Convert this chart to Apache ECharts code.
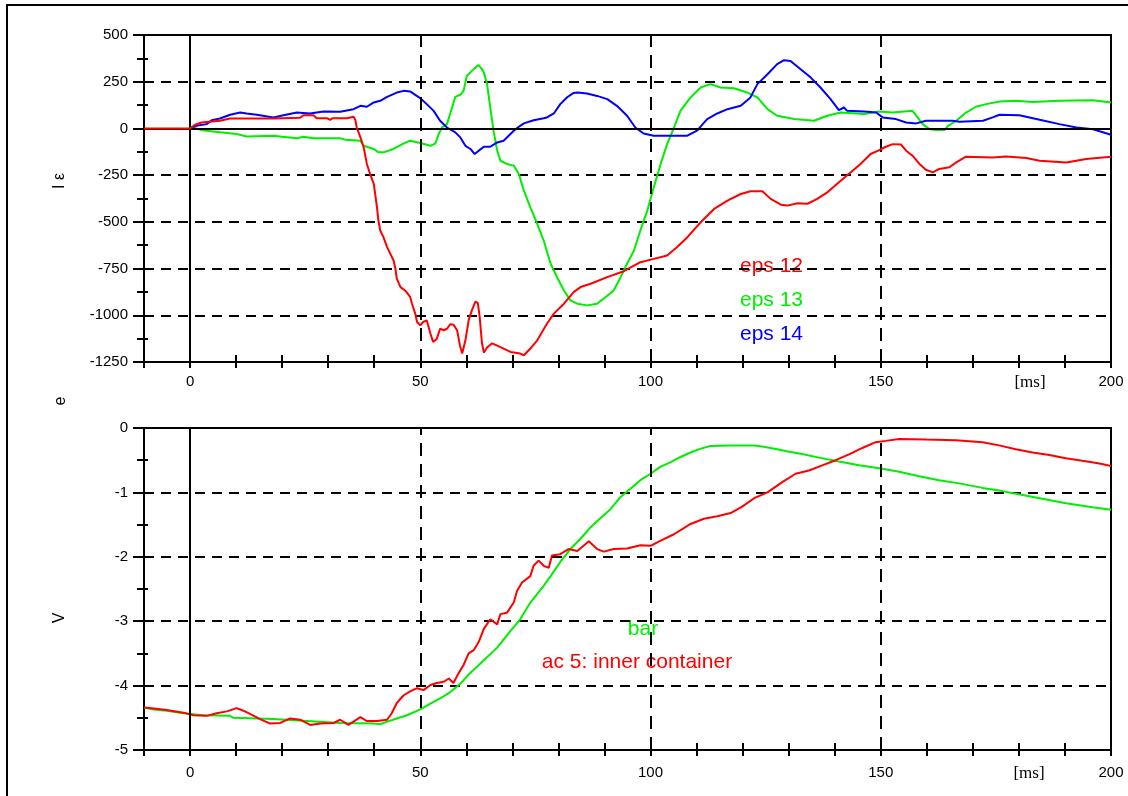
<!DOCTYPE html>
<html>
<head>
<meta charset="utf-8">
<script src="https://cdn.jsdelivr.net/npm/echarts@6/dist/echarts.min.js"></script>
<style>
html,body{margin:0;padding:0;background:#fff;}
#chart{width:1128px;height:796px;}
</style>
</head>
<body>
<div id="chart"></div>
<script>
// ---- data (time in ms, values) ----
const xTickLabels = [0, 50, 100, 150, 200];
const xUnit = '[ms]';
const topYLabel = 'I ε';
const midLabel = 'e';
const bottomYLabel = 'V';
const topNames = ['eps 12', 'eps 13', 'eps 14'];
const bottomNames = ['bar', 'ac 5: inner container'];

const eps12 = [[-10,0],[0,0],[1.1,20],[2.5,32],[6.5,41],[8.7,53],[18.1,53],[23.9,57],[24.6,71],[26.8,71],[27.5,55],[29.7,55],[30.4,46],[31,55],[34.1,55],[35.5,62],[35.9,45],[36.2,5],[37.0,-48],[37.7,-101],[38.4,-190],[39.1,-244],[39.9,-297],[40.6,-422],[40.9,-493],[41.3,-546],[42.0,-582],[42.8,-635],[43.5,-671],[44.2,-707],[44.6,-751],[44.9,-804],[45.7,-849],[46.7,-867],[47.8,-902],[48.2,-938],[48.9,-991],[49.3,-1036],[50,-1054],[50.6,-1036],[51.4,-1027],[52.2,-1098],[52.8,-1143],[53.6,-1125],[54.3,-1072],[55.1,-1080],[55.8,-1072],[56.5,-1048],[57.2,-1050],[58.0,-1080],[58.6,-1160],[59.1,-1205],[59.8,-1134],[60.5,-1027],[61.2,-974],[62.0,-926],[62.5,-935],[62.9,-1009],[63.4,-1150],[63.8,-1200],[64.5,-1172],[65.6,-1150],[66.7,-1162],[68.1,-1178],[69.6,-1196],[71.7,-1205],[72.5,-1214],[73.9,-1178],[75.4,-1134],[77.5,-1045],[79.0,-991],[81.2,-938],[83.3,-876],[84.8,-849],[87.0,-831],[90.6,-796],[94.2,-764],[97.8,-716],[100.7,-698],[103.6,-680],[105.8,-635],[108.0,-582],[110.9,-502],[113.8,-431],[116.7,-386],[119.6,-351],[121.7,-336],[124.3,-336],[126.1,-377],[128.3,-408],[129.7,-413],[131.9,-400],[134.1,-403],[136.2,-377],[138.4,-342],[141.3,-280],[143.5,-235],[145.6,-190],[147.8,-137],[149.7,-116],[151.1,-98],[152.6,-84],[154.4,-86],[155.5,-119],[156.9,-146],[158.4,-190],[159.8,-221],[161.3,-235],[162.7,-217],[164.9,-208],[166.4,-182],[168.5,-151],[174.3,-155],[177.2,-150],[181.6,-158],[184.5,-173],[190.3,-182],[194.6,-164],[200,-151]];

const eps13 = [[0,0],[1.4,0],[2.5,-9],[3.6,-12],[6.5,-21],[10.1,-30],[12.3,-43],[18.1,-39],[20,-45],[23.2,-52],[24.6,-45],[26.8,-52],[32.6,-53],[33.7,-60],[37.0,-66],[37.7,-93],[39.9,-110],[40.9,-128],[42.0,-128],[44.2,-110],[46.4,-80],[47.8,-66],[50,-78],[52.2,-93],[53.3,-80],[54.0,-30],[54.7,5],[55.8,23],[56.9,112],[57.6,169],[58.7,180],[59.4,201],[60.1,281],[61.2,308],[62.0,326],[62.6,340],[63.3,320],[63.8,300],[64.5,237],[65.2,112],[65.9,-12],[66.7,-119],[67.4,-173],[68.8,-190],[70.3,-199],[71.4,-244],[72.5,-333],[73.9,-422],[75.4,-511],[76.8,-600],[78.3,-724],[79.7,-796],[81.2,-867],[82.6,-920],[84.1,-938],[86.2,-947],[88.4,-938],[89.8,-911],[92.0,-867],[93.5,-796],[94.9,-724],[96.4,-653],[97.8,-546],[99.3,-440],[100.7,-315],[102.2,-190],[103.6,-84],[105.1,5],[106.5,94],[108.7,166],[110.9,219],[113.0,237],[115.2,219],[118.1,215],[121.0,192],[123.2,166],[125.4,103],[127.5,68],[131.2,50],[135.5,41],[138.4,68],[141.3,85],[146.4,77],[149.7,91],[152.6,85],[156.9,94],[158.0,59],[159.1,23],[160.6,-4],[162.0,-9],[163.8,-9],[164.6,14],[166.4,41],[168.5,85],[170.7,116],[172.9,130],[175.8,144],[179.4,148],[183.0,142],[188.8,148],[196.1,151],[200,139]];

const eps14 = [[0,0],[1.4,14],[3.6,23],[4.7,44],[6.5,53],[8.7,73],[10.9,85],[12.3,80],[14.5,73],[18.1,59],[20.3,71],[23.2,85],[26,80],[29.0,91],[32.6,89],[35.5,103],[37.0,121],[38.4,116],[39.9,139],[41.3,148],[42.8,169],[44.9,192],[46.4,201],[47.8,198],[48.9,180],[50,162],[51.4,130],[52.9,94],[54.3,41],[55.8,5],[57.6,-21],[58.7,-48],[59.8,-93],[60.9,-110],[61.8,-137],[62.7,-119],[63.8,-98],[65.2,-98],[66.7,-75],[68.1,-66],[69.2,-39],[70.3,-12],[71.7,14],[72.5,27],[74.6,44],[76.8,55],[77.5,59],[79.0,80],[80.4,130],[81.9,167],[83.3,190],[84.1,192],[86.2,187],[88.4,174],[90.6,157],[92.7,121],[94.9,68],[96.7,5],[98.5,-27],[100.7,-39],[104.3,-39],[108.0,-39],[110.1,-12],[112.3,50],[114.5,80],[116.7,103],[119.6,121],[121.7,166],[123.2,237],[125.4,290],[127.5,344],[129.0,365],[130.4,361],[132.6,317],[134.8,272],[136.9,219],[139.1,157],[140.9,98],[142.0,112],[142.7,94],[146.4,91],[149.0,85],[150.4,59],[153.3,50],[155.5,32],[157.7,27],[159.8,41],[165.6,41],[167.1,36],[172.2,41],[174.3,59],[175.8,73],[180.1,71],[182.3,59],[184.5,46],[188.8,23],[192.5,5],[196.1,-4],[200,-34]];

const barV = [[-10,-4.34],[-8.0,-4.37],[-5.1,-4.39],[-2.2,-4.42],[0,-4.44],[2.9,-4.46],[8.7,-4.47],[9.4,-4.50],[18.1,-4.52],[25.4,-4.55],[32.6,-4.58],[39.9,-4.59],[41.3,-4.60],[42.8,-4.56],[44.9,-4.51],[47.1,-4.46],[50,-4.37],[52.2,-4.28],[54.3,-4.20],[56.5,-4.10],[58.7,-3.97],[60.9,-3.80],[63.0,-3.66],[66.7,-3.41],[69.6,-3.15],[71.7,-2.97],[73.9,-2.71],[76.8,-2.45],[78.3,-2.30],[80.4,-2.08],[82.6,-1.88],[84.8,-1.72],[87.0,-1.54],[89.1,-1.40],[91.3,-1.26],[93.5,-1.07],[95.7,-0.94],[97.8,-0.81],[100.0,-0.71],[102.2,-0.60],[104.4,-0.53],[106.5,-0.45],[108.7,-0.38],[110.9,-0.32],[113.0,-0.28],[117.4,-0.27],[122.5,-0.27],[124.6,-0.29],[127.5,-0.33],[130.1,-0.37],[132.6,-0.40],[136.6,-0.46],[140.9,-0.52],[145.3,-0.58],[150.0,-0.63],[154.0,-0.68],[158.3,-0.75],[162.7,-0.81],[167.0,-0.86],[172.1,-0.93],[176.4,-0.98],[180.8,-1.04],[185.1,-1.10],[190.2,-1.17],[196.0,-1.23],[200,-1.27]];

const ac5V = [[-10,-4.34],[-8.3,-4.35],[-5.1,-4.38],[-1.4,-4.42],[0.7,-4.46],[3.6,-4.47],[5.8,-4.43],[8.0,-4.40],[10.1,-4.35],[11.6,-4.39],[13.0,-4.44],[15.2,-4.52],[17.4,-4.59],[19.6,-4.58],[21.7,-4.51],[23.9,-4.53],[26.1,-4.61],[28.3,-4.59],[31.2,-4.58],[32.6,-4.53],[34.4,-4.61],[35.5,-4.56],[37.0,-4.49],[38.4,-4.55],[40.6,-4.55],[42.8,-4.53],[43.8,-4.43],[44.9,-4.27],[46.4,-4.15],[47.8,-4.09],[49.3,-4.04],[50.7,-4.07],[52.2,-3.99],[53.6,-3.96],[55.1,-3.94],[56.2,-3.89],[57.2,-3.96],[58.3,-3.81],[59.4,-3.68],[60.5,-3.50],[61.6,-3.45],[62.7,-3.32],[63.8,-3.12],[65.2,-2.97],[66.7,-3.05],[67.4,-2.89],[68.8,-2.87],[70.3,-2.71],[71.0,-2.53],[72.1,-2.40],[73.9,-2.30],[74.6,-2.14],[75.7,-2.06],[76.8,-2.14],[77.9,-2.17],[78.6,-1.98],[80.4,-1.96],[82.2,-1.88],[84.1,-1.91],[86.6,-1.76],[88.4,-1.88],[89.9,-1.92],[92.0,-1.88],[94.9,-1.87],[97.8,-1.82],[100.0,-1.83],[102.2,-1.75],[105.1,-1.65],[108.7,-1.49],[111.6,-1.41],[114.5,-1.37],[117.4,-1.32],[119.9,-1.22],[122.5,-1.09],[125.4,-1.00],[128.6,-0.84],[131.5,-0.71],[134.4,-0.66],[137.3,-0.58],[140.2,-0.50],[143.1,-0.41],[146.0,-0.31],[148.9,-0.22],[151.1,-0.20],[154.0,-0.17],[159.8,-0.18],[166.3,-0.19],[172.1,-0.22],[175.7,-0.27],[179.3,-0.33],[183.0,-0.38],[186.6,-0.42],[190.2,-0.47],[193.8,-0.51],[197.5,-0.55],[200,-0.59]];

// ---- styling ----
const RED = '#ff0000', GREEN = '#00ee00', BLUE = '#0000ff', BLACK = '#000';
const FONT = '"Liberation Sans", Arial, sans-serif';
const SERIF = '"Liberation Serif", "Times New Roman", serif';

function xAxisPair(gridIndex, labelMargin) {
  const base = {
    type: 'value', gridIndex: gridIndex, position: 'bottom', min: -10, max: 200, interval: 10,
    splitLine: { show: false }
  };
  return [
    Object.assign({}, base, {
      axisLine: { show: true, onZero: false, lineStyle: { color: BLACK, width: 2 } },
      axisTick: { show: true, inside: false, length: 6, lineStyle: { color: BLACK, width: 2 } },
      axisLabel: { show: true, margin: labelMargin, color: BLACK, fontSize: 15, fontFamily: FONT,
        formatter: v => (xTickLabels.indexOf(v) >= 0 ? String(v) : '') }
    }),
    Object.assign({}, base, {
      axisLine: { show: false, onZero: false },
      axisTick: { show: true, inside: true, length: 7, lineStyle: { color: BLACK, width: 2 } },
      axisLabel: { show: false }
    })
  ];
}

function yAxisPair(gridIndex, min, max, interval) {
  const base = { type: 'value', gridIndex: gridIndex, position: 'left', min: min, max: max, interval: interval };
  return [
    Object.assign({}, base, {
      axisLine: { show: true, onZero: false, lineStyle: { color: BLACK, width: 2 } },
      axisTick: { show: true, inside: false, length: 11, lineStyle: { color: BLACK, width: 2 } },
      minorTick: { show: true, splitNumber: 2, length: 7, lineStyle: { color: BLACK, width: 2 } },
      axisLabel: { show: true, margin: 16, color: BLACK, fontSize: 15, fontFamily: FONT,
        formatter: v => String(v) },
      splitLine: { show: true, lineStyle: { color: BLACK, width: 2, type: [10, 7] } }
    }),
    Object.assign({}, base, {
      axisLine: { show: false, onZero: false },
      axisTick: { show: false, inside: true },
      minorTick: { show: true, splitNumber: 2, length: 4, lineStyle: { color: BLACK, width: 2 } },
      axisLabel: { show: false },
      splitLine: { show: false }
    })
  ];
}

function guideLines(withZeroY) {
  const solid = { color: BLACK, width: 2, type: 'solid' };
  const dashed = { color: BLACK, width: 2, type: [13, 8] };
  const data = [
    { xAxis: 0, lineStyle: solid },
    { xAxis: 50, lineStyle: dashed },
    { xAxis: 100, lineStyle: dashed },
    { xAxis: 150, lineStyle: dashed }
  ];
  if (withZeroY) data.push({ yAxis: 0, lineStyle: solid });
  return { silent: true, symbol: ['none', 'none'], label: { show: false }, animation: false, data: data };
}

function lineSeries(name, data, color, xi, yi, z) {
  return {
    name: name, type: 'line', data: data, xAxisIndex: xi, yAxisIndex: yi,
    showSymbol: false, symbol: 'none', animation: false, z: z,
    lineStyle: { color: color, width: 2 }, itemStyle: { color: color }
  };
}

const chart = echarts.init(document.getElementById('chart'), null, { renderer: 'canvas' });

const gridStyle = { show: true, borderColor: BLACK, borderWidth: 2, backgroundColor: 'transparent', left: 144, right: 17 };

const option = {
  backgroundColor: '#fff',
  animation: false,
  grid: [
    Object.assign({}, gridStyle, { top: 35, height: 327 }),
    Object.assign({}, gridStyle, { top: 428, height: 322 })
  ],
  xAxis: [].concat(xAxisPair(0, 12), xAxisPair(1, 15)),
  yAxis: [].concat(yAxisPair(0, -1250, 500, 250), yAxisPair(1, -5, 0, 1)),
  series: [
    { type: 'line', xAxisIndex: 0, yAxisIndex: 0, data: [], z: 1, markLine: guideLines(true) },
    { type: 'line', xAxisIndex: 2, yAxisIndex: 2, data: [], z: 1, markLine: guideLines(false) },
    lineSeries(topNames[1], eps13, GREEN, 0, 0, 3),
    lineSeries(topNames[2], eps14, BLUE, 0, 0, 4),
    lineSeries(topNames[0], eps12, RED, 0, 0, 5),
    lineSeries(bottomNames[0], barV, GREEN, 2, 2, 3),
    lineSeries(bottomNames[1], ac5V, RED, 2, 2, 4)
  ],
  graphic: [
    { type: 'rect', x: 7, y: 5, silent: true, z: 0,
      shape: { x: 0, y: 0, width: 1200, height: 1000 },
      style: { fill: 'none', stroke: BLACK, lineWidth: 2 } },
    { type: 'text', x: 60, y: 181, rotation: Math.PI / 2,
      style: { text: topYLabel, font: '16px ' + FONT, fill: BLACK, textAlign: 'center', textVerticalAlign: 'middle' } },
    { type: 'text', x: 61, y: 401, rotation: Math.PI / 2,
      style: { text: midLabel, font: '16px ' + FONT, fill: BLACK, textAlign: 'center', textVerticalAlign: 'middle' } },
    { type: 'text', x: 60, y: 618, rotation: Math.PI / 2,
      style: { text: bottomYLabel, font: '16px ' + FONT, fill: BLACK, textAlign: 'center', textVerticalAlign: 'middle' } },
    { type: 'text', x: 1030, y: 383,
      style: { text: xUnit, font: '17px ' + SERIF, fill: BLACK, textAlign: 'center', textVerticalAlign: 'middle' } },
    { type: 'text', x: 1029, y: 774,
      style: { text: xUnit, font: '17px ' + SERIF, fill: BLACK, textAlign: 'center', textVerticalAlign: 'middle' } },
    { type: 'text', x: 740, y: 266,
      style: { text: topNames[0], font: '21px ' + FONT, fill: RED, textAlign: 'left', textVerticalAlign: 'middle' } },
    { type: 'text', x: 740, y: 300,
      style: { text: topNames[1], font: '21px ' + FONT, fill: GREEN, textAlign: 'left', textVerticalAlign: 'middle' } },
    { type: 'text', x: 740, y: 334,
      style: { text: topNames[2], font: '21px ' + FONT, fill: BLUE, textAlign: 'left', textVerticalAlign: 'middle' } },
    { type: 'text', x: 643, y: 629,
      style: { text: bottomNames[0], font: '21px ' + FONT, fill: GREEN, textAlign: 'center', textVerticalAlign: 'middle' } },
    { type: 'text', x: 637, y: 662,
      style: { text: bottomNames[1], font: '21px ' + FONT, fill: RED, textAlign: 'center', textVerticalAlign: 'middle' } }
  ]
};

chart.setOption(option);
</script>
</body>
</html>
